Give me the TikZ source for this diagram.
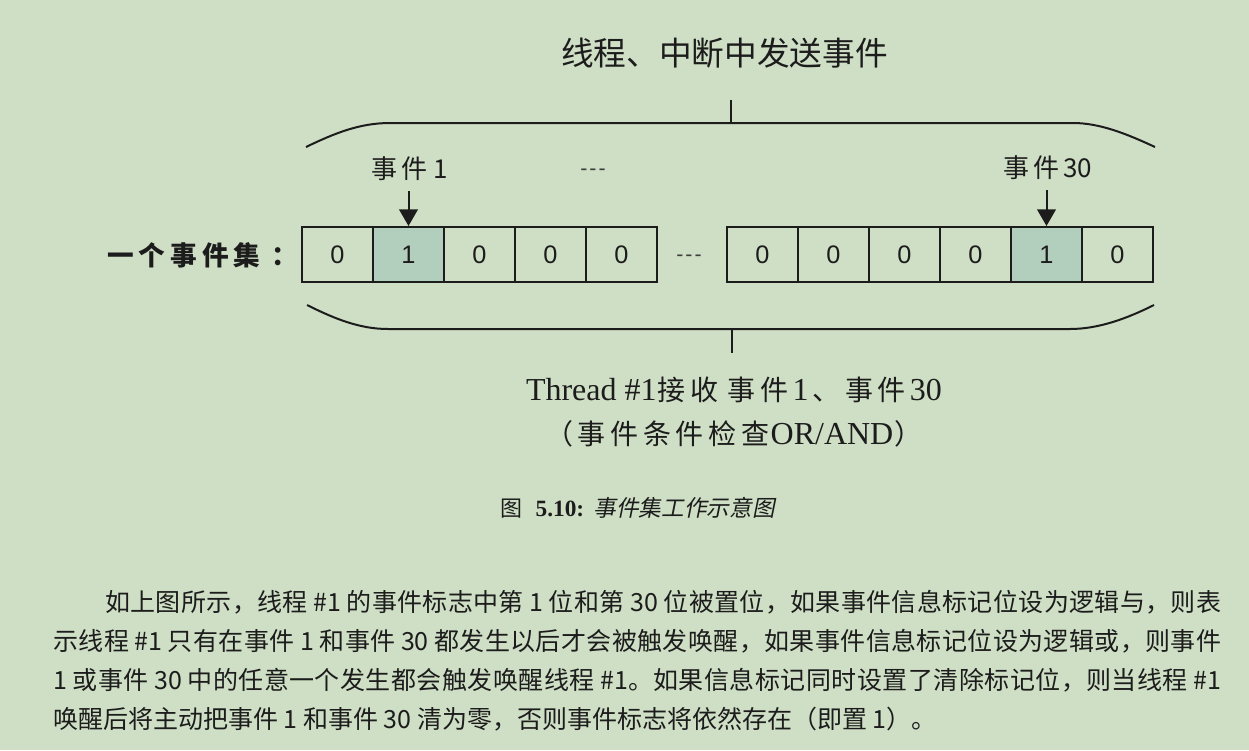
\documentclass[tikz,border=0pt]{standalone}
\usepackage{fontspec}
\setmainfont{Noto Sans CJK SC}
\newfontfamily\tms{Liberation Serif}
\newfontfamily\arl{Liberation Sans}
\newfontfamily\cjkit{Noto Sans CJK SC}[FakeSlant=0.2]
\usetikzlibrary{arrows.meta}
\newskip\cjkglue
\cjkglue=0pt plus 1fil
\newXeTeXintercharclass\clsid
\newXeTeXintercharclass\clsop
\newXeTeXintercharclass\clscl
\newcount\myc
\myc="4E00
\loop
  \XeTeXcharclass\myc=\clsid
  \advance\myc by 1
\ifnum\myc<"A000 \repeat
\XeTeXcharclass"FF0C=\clscl
\XeTeXcharclass"3002=\clscl
\XeTeXcharclass"3001=\clscl
\XeTeXcharclass"FF09=\clscl
\XeTeXcharclass"FF1A=\clscl
\XeTeXcharclass"FF08=\clsop
\XeTeXinterchartokenstate=1
\XeTeXinterchartoks\clsid\clsid={\hskip\cjkglue}
\XeTeXinterchartoks\clsid\clscl={\hskip\cjkglue}
\XeTeXinterchartoks\clscl\clsid={\hskip\cjkglue}
\XeTeXinterchartoks\clsid\clsop={\hskip\cjkglue}
\XeTeXinterchartoks\clsop\clsid={\hskip\cjkglue}
\definecolor{bg}{RGB}{207,223,197}
\definecolor{hl}{RGB}{178,207,190}
\definecolor{ink}{RGB}{28,28,28}
\newcommand\tmsr[1]{{\tms\fontsize{24}{24}\selectfont #1}}
\begin{document}
\begin{tikzpicture}[x=0.75pt,y=-0.75pt,
  cell/.style={draw=ink, line width=1.5pt, minimum width=53.25pt, minimum height=41.25pt, inner sep=0pt, font=\arl\fontsize{19}{19}\selectfont, text=ink},
  hot/.style={cell, fill=hl},
  lbl/.style={inner sep=0pt, text=ink},
  brace/.style={draw=ink, line width=1.5pt},
  tick/.style={draw=ink, line width=1.2pt},
  arr/.style={draw=ink, line width=1.5pt, -{Triangle[width=14pt,length=12.5pt]}},
  dots/.style={inner sep=0pt, font=\arl\fontsize{16}{16}\selectfont, text=ink!85},
  para/.style={lbl, anchor=west, font=\fontsize{18.75}{18.75}\selectfont},
  evl/.style={lbl, font={\fontsize{19.5}{19.5}\selectfont\cjkglue=2.5pt\relax}},
  btm/.style={lbl, font={\fontsize{21}{21}\selectfont\cjkglue=3.5pt\relax}}
]
\fill[bg] (0,0) rectangle (1249,750);
\useasboundingbox (0,0) rectangle (1249,750);

% title
\node[lbl, font=\fontsize{24.5}{24.5}\selectfont] (title) at (724.5,53) {线程、中断中发送事件};

% top brace
\draw[brace] (306,147) .. controls (335,133) and (360,123) .. (390,123) -- (1073,123) .. controls (1100,123) and (1127,134) .. (1155,147);
\draw[tick] (731,100) -- (731,123);

% labels above
\node[evl] (e1) at (410,169) {事件\kern5pt 1};
\node[evl] (e30) at (1048,168) {事件\kern3pt 30};
\node[dots] (d1) at (593,172) {-\kern1.5pt-\kern1.5pt-};

% set label
\node[lbl, anchor=west, font={\bfseries\fontsize{20}{20}\selectfont\cjkglue=3.75pt\relax}] (setl) at (107,255) {一个事件集\kern8pt ：};

% cells
\node[cell] (c1) at (337.5,254.5) {0};
\node[hot]  (c2) at (408.5,254.5) {1};
\node[cell] (c3) at (479.5,254.5) {0};
\node[cell] (c4) at (550.5,254.5) {0};
\node[cell] (c5) at (621.5,254.5) {0};
\node[dots] (d2) at (689,258) {-\kern1.5pt-\kern1.5pt-};
\node[cell] (c6) at (762.5,254.5) {0};
\node[cell] (c7) at (833.5,254.5) {0};
\node[cell] (c8) at (904.5,254.5) {0};
\node[cell] (c9) at (975.5,254.5) {0};
\node[hot]  (c10) at (1046.5,254.5) {1};
\node[cell] (c11) at (1117.5,254.5) {0};

% arrows
\path (e1.south) ++(0,10) coordinate (a1s);
\path (e30.south) ++(0,10) coordinate (a2s);
\draw[arr] (a1s -| c2.north) -- (c2.north);
\draw[arr] (a2s -| c10.north) -- (c10.north);

% bottom brace
\draw[brace] (307,305) .. controls (335,319) and (360,329) .. (388,329) -- (1070,329) .. controls (1098,329) and (1126,319) .. (1154,305);
\draw[tick] (732,329) -- (732,353);

% bottom text
\node[btm] (recv) at (734,390) {\tmsr{Thread \#1}\kern1pt 接收\hspace{7pt}事件\kern3pt\tmsr{1}\kern3pt 、事件\kern3pt\tmsr{30}};
\node[btm] (cond) at (734,434) {（事件条件检查\kern1pt\tmsr{OR/AND}\kern1pt ）};

% caption
\node[lbl, anchor=west, font=\fontsize{16.5}{16.5}\selectfont] (cap) at (500,508) {图\hspace{10pt}{\tms\bfseries\fontsize{17.5}{17.5}\selectfont 5.10:}\hspace{7pt}{\cjkit\fontsize{17}{17}\selectfont 事件集工作示意图}};

% paragraph
\node[para] (p1) at (105,602) {\makebox[837pt][s]{如上图所示，线程 \#1 的事件标志中第 1 位和第 30 位被置位，如果事件信息标记位设为逻辑与，则表}};
\node[para] (p2) at (53,641) {\makebox[876pt][s]{示线程 \#1 只有在事件 1 和事件 30 都发生以后才会被触发唤醒，如果事件信息标记位设为逻辑或，则事件}};
\node[para] (p3) at (53,680) {\makebox[876pt][s]{1 或事件 30 中的任意一个发生都会触发唤醒线程 \#1。如果信息标记同时设置了清除标记位，则当线程 \#1}};
\node[para] (p4) at (53,719) {唤醒后将主动把事件 1 和事件 30 清为零，否则事件标志将依然存在（即置 1）。};
\end{tikzpicture}
\end{document}
